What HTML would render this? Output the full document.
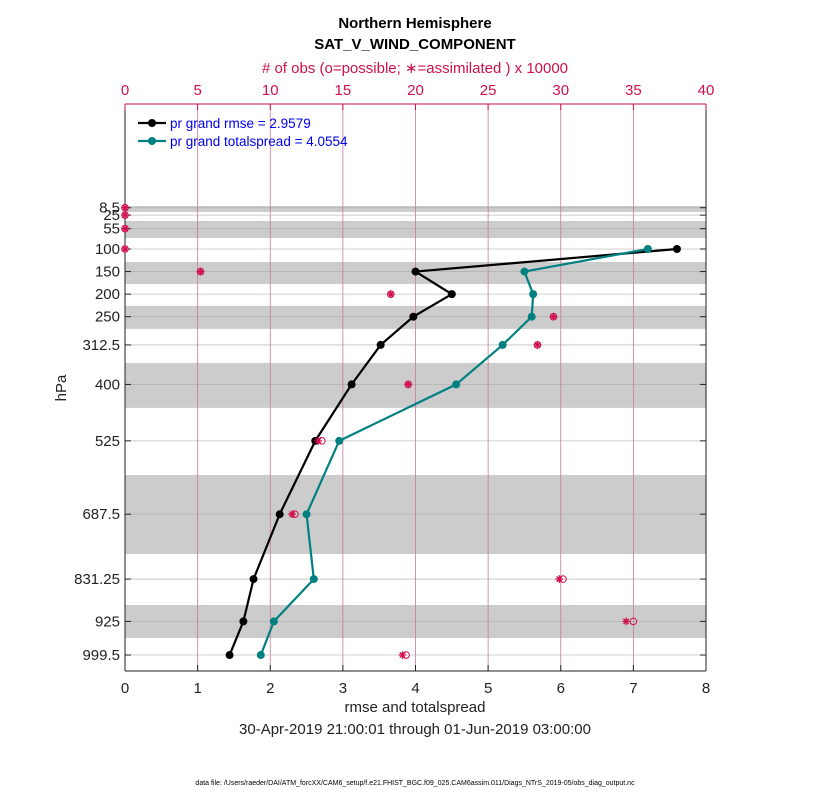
<!DOCTYPE html>
<html><head><meta charset="utf-8"><style>
body{margin:0;background:#fff;}
svg text{font-family:"Liberation Sans",sans-serif;}
</style></head><body>
<svg id="c" width="830" height="800" xmlns="http://www.w3.org/2000/svg"></svg>
<script>
const levels=[8.5,25,55,100,150,200,250,312.5,400,525,687.5,831.25,925,999.5];
const levelLabels=["8.5","25","55","100","150","200","250","312.5","400","525","687.5","831.25","925","999.5"];
const rmseLevels=[100,150,200,250,312.5,400,525,687.5,831.25,925,999.5];
const rmse=[7.6,4.0,4.5,3.97,3.52,3.12,2.62,2.13,1.77,1.63,1.44];
const spread=[7.2,5.5,5.62,5.6,5.2,4.56,2.95,2.5,2.6,2.05,1.87];
const obsPossible=[0,0,0,0,5.2,18.3,29.5,28.4,19.5,13.55,11.7,30.15,35.0,19.35];
const obsAssim=[0,0,0,0,5.2,18.3,29.5,28.4,19.5,13.3,11.5,29.9,34.5,19.1];
const bandsLo=[4.7,38,128.8,226,352.5,600.7,888.7];
const bandsHi=[18,75.6,177.5,277,452,775.7,961.8];
const xTicks=[0,1,2,3,4,5,6,7,8];
const topTicks=[0,5,10,15,20,25,30,35,40];

const svg=document.getElementById('c');
const NS='http://www.w3.org/2000/svg';
const L=125,R=706,T=104,B=671;
const X=v=>L+(R-L)*v/8;
const XT=v=>L+(R-L)*v/40;
const Y=p=>249+(p-100)*0.4514;
function mk(tag,attrs,parent){const e=document.createElementNS(NS,tag);for(const k in attrs)e.setAttribute(k,attrs[k]);(parent||svg).appendChild(e);return e;}
function txt(s,x,y,attrs){const e=mk('text',Object.assign({x:x,y:y},attrs));e.textContent=s;return e;}

for(let i=0;i<bandsLo.length;i++){
  const r=mk('rect',{x:L,y:Y(bandsLo[i]),width:R-L,height:Y(bandsHi[i])-Y(bandsLo[i]),fill:'#cccccc'});
  
  
}
levels.forEach(p=>{const g=mk('line',{x1:L,x2:R,y1:Y(p),y2:Y(p),stroke:'#b0b0b0','stroke-width':0.8,opacity:0.8});
  
  });
topTicks.forEach(v=>{if(v>0&&v<40){const g=mk('line',{x1:XT(v),x2:XT(v),y1:T,y2:B,stroke:'#c87a9a','stroke-width':0.8});
  
  }});
const ax=mk('g',{});


mk('line',{x1:L,x2:R,y1:B,y2:B,stroke:'#222','stroke-width':1},ax);
mk('line',{x1:L,x2:L,y1:T,y2:B,stroke:'#222','stroke-width':1},ax);
mk('line',{x1:R,x2:R,y1:T,y2:B,stroke:'#222','stroke-width':1},ax);
mk('line',{x1:L,x2:R,y1:T,y2:T,stroke:'#d0104c','stroke-width':1},ax);
xTicks.forEach(v=>{mk('line',{x1:X(v),x2:X(v),y1:B,y2:B-6,stroke:'#222'},ax);
  const t=txt(String(v),X(v),693,{'font-size':15,'text-anchor':'middle',fill:'#222'});
  
  });
topTicks.forEach(v=>{mk('line',{x1:XT(v),x2:XT(v),y1:T,y2:T+6,stroke:'#d0104c'},ax);
  const t=txt(String(v),XT(v),95,{'font-size':15,'text-anchor':'middle',fill:'#d0104c'});
  
  });
levels.forEach((p,i)=>{mk('line',{x1:L,x2:L+6,y1:Y(p),y2:Y(p),stroke:'#222'},ax);mk('line',{x1:R,x2:R-6,y1:Y(p),y2:Y(p),stroke:'#222'},ax);
  const t=txt(levelLabels[i],120,Y(p)+5,{'font-size':15,'text-anchor':'end',fill:'#222'});
  
  });

function series(vals,color,name){
  const pts=vals.map((v,i)=>X(v)+','+Y(rmseLevels[i])).join(' ');
  const pl=mk('polyline',{points:pts,fill:'none',stroke:color,'stroke-width':2.2});
  
  
  vals.forEach((v,i)=>{const c=mk('circle',{cx:X(v),cy:Y(rmseLevels[i]),r:4,fill:color});
    
    });
}
series(rmse,'#000','rmse');
series(spread,'#008080','spread');

obsPossible.forEach((v,i)=>{const c=mk('circle',{cx:XT(v),cy:Y(levels[i]),r:3.3,fill:'none',stroke:'#d0104c','stroke-width':1});
  
  });
obsAssim.forEach((v,i)=>{
  const cx=XT(v),cy=Y(levels[i]),r=3.8;
  const g=mk('path',{d:`M${cx-r},${cy}H${cx+r}M${cx},${cy-r}V${cy+r}M${cx-r*0.7},${cy-r*0.7}L${cx+r*0.7},${cy+r*0.7}M${cx-r*0.7},${cy+r*0.7}L${cx+r*0.7},${cy-r*0.7}`,stroke:'#d0104c','stroke-width':1.3,fill:'none'});
  
  });

const lg=mk('g',{});


mk('line',{x1:138,x2:166,y1:123,y2:123,stroke:'#000','stroke-width':2.2},lg);
mk('circle',{cx:152,cy:123,r:4,fill:'#000'},lg);
txt('pr grand rmse = 2.9579',170,128,{'font-size':13.5,fill:'#0000ee'});
mk('line',{x1:138,x2:166,y1:141,y2:141,stroke:'#008080','stroke-width':2.2},lg);
mk('circle',{cx:152,cy:141,r:4,fill:'#008080'},lg);
txt('pr grand totalspread = 4.0554',170,146,{'font-size':13.5,fill:'#0000ee'});

let t;
t=txt('Northern Hemisphere',415,28,{'font-size':15,'font-weight':'bold','text-anchor':'middle',fill:'#000'});

t=txt('SAT_V_WIND_COMPONENT',415,49,{'font-size':15,'font-weight':'bold','text-anchor':'middle',fill:'#000'});

t=txt('# of obs (o=possible; \u2217=assimilated ) x 10000',415,73,{'font-size':15,'text-anchor':'middle',fill:'#d0104c'});

t=txt('rmse and totalspread',415,712,{'font-size':15,'text-anchor':'middle',fill:'#222'});

t=txt('30-Apr-2019 21:00:01 through 01-Jun-2019 03:00:00',415,734,{'font-size':15,'text-anchor':'middle',fill:'#222'});

t=txt('hPa',0,0,{'font-size':15,'text-anchor':'middle',fill:'#222',transform:'translate(66,388) rotate(-90)'});

t=txt('data file: /Users/raeder/DAI/ATM_forcXX/CAM6_setup/f.e21.FHIST_BGC.f09_025.CAM6assim.011/Diags_NTrS_2019-05/obs_diag_output.nc',415,785,{'font-size':7,'text-anchor':'middle',fill:'#000'});

</script>
</body></html>
